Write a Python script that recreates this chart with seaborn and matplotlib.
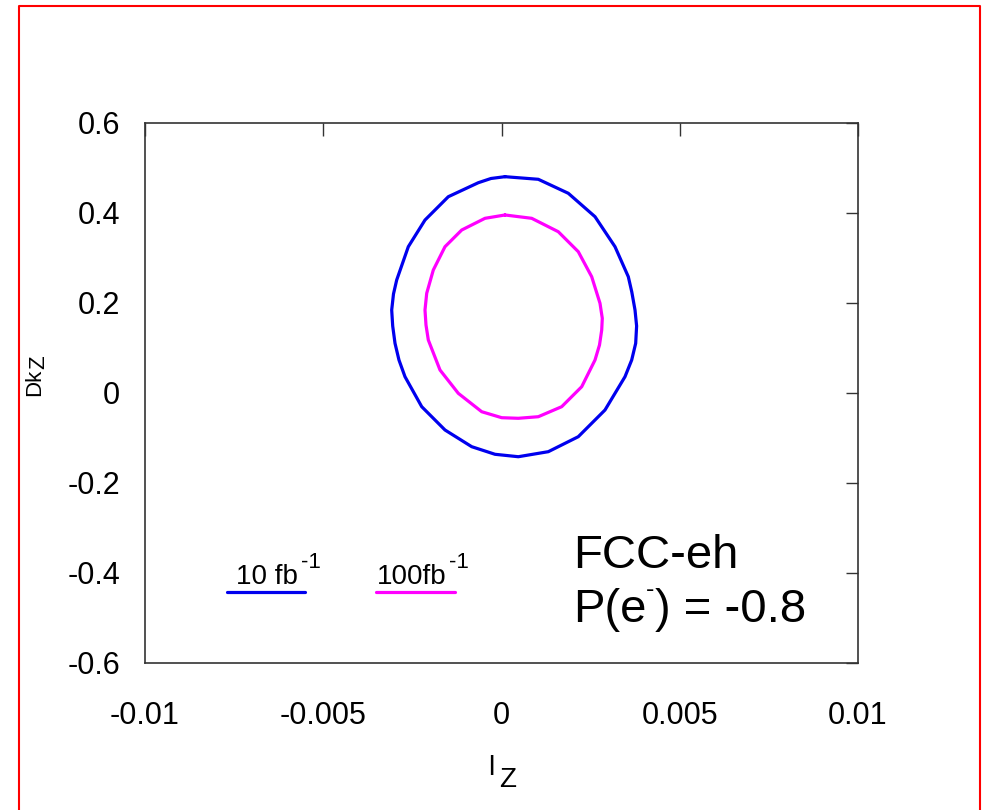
import seaborn as sns
import matplotlib.pyplot as plt
import pandas as pd
from matplotlib.lines import Line2D

# contour points (lambda_Z, Delta kappa_Z), clockwise from top
blue_x = [0.000098, 0.001032, 0.001874, 0.002623, 0.003184, 0.003557, 0.003655, 0.003745,
          0.003790, 0.003764, 0.003652, 0.003464, 0.002903, 0.002154, 0.001313, 0.000471,
          -0.000182, -0.000836, -0.001585, -0.002238, -0.002707, -0.002876, -0.002987,
          -0.003052, -0.003080, -0.003030, -0.002940, -0.002614, -0.002146, -0.001492,
          -0.000651, -0.000295]
blue_y = [0.4807, 0.4749, 0.4438, 0.3918, 0.3251, 0.2584, 0.2244, 0.1844,
          0.1489, 0.1104, 0.0733, 0.0362, -0.0378, -0.0971, -0.1304, -0.1416,
          -0.1362, -0.1193, -0.0822, -0.0304, 0.0362, 0.0733, 0.1104,
          0.1489, 0.1844, 0.2200, 0.2511, 0.3251, 0.3844, 0.4362,
          0.4673, 0.4767]

mag_x = [0.000098, 0.000847, 0.001593, 0.002154, 0.002530, 0.002763, 0.002827, 0.002811,
         0.002749, 0.002623, 0.002250, 0.001689, 0.001032, 0.000471, 0.000006, -0.000555,
         -0.001212, -0.001725, -0.002053, -0.002118, -0.002146, -0.002098, -0.001913,
         -0.001585, -0.001116, -0.000463]
mag_y = [0.3956, 0.3882, 0.3584, 0.3140, 0.2584, 0.1993, 0.1660, 0.1400,
         0.1067, 0.0733, 0.0140, -0.0304, -0.0527, -0.0562, -0.0549, -0.0416,
         -0.0007, 0.0511, 0.1178, 0.1511, 0.1844, 0.2216, 0.2733,
         0.3251, 0.3622, 0.3882]

x_ticks = [-0.01, -0.005, 0, 0.005, 0.01]
x_labels = ['-0.01', '-0.005', '0', '0.005', '0.01']
y_ticks = [-0.6, -0.4, -0.2, 0, 0.2, 0.4, 0.6]
y_labels = ['-0.6', '-0.4', '-0.2', '0', '0.2', '0.4', '0.6']

sns.set_style("white")
plt.rcParams['font.family'] = ['Liberation Sans', 'DejaVu Sans']
plt.rcParams['text.color'] = 'black'
plt.rcParams['xtick.color'] = 'black'
plt.rcParams['ytick.color'] = 'black'

# close the curves
df_blue = pd.DataFrame({'x': blue_x + blue_x[:1], 'y': blue_y + blue_y[:1]})
df_mag = pd.DataFrame({'x': mag_x + mag_x[:1], 'y': mag_y + mag_y[:1]})

fig = plt.figure(figsize=(9.84, 8.1), dpi=100)
ax = fig.add_axes([145 / 984, 1 - 663 / 810, 713 / 984, 540 / 810])

sns.lineplot(data=df_blue, x='x', y='y', sort=False, estimator=None, color='#0000EE', lw=2.3,
             ax=ax, solid_joinstyle='round')
sns.lineplot(data=df_mag, x='x', y='y', sort=False, estimator=None, color='#FF00FF', lw=2.3,
             ax=ax, solid_joinstyle='round')

ax.set_xlim(-0.01, 0.01)
ax.set_ylim(-0.6, 0.6)
ax.set_xticks(x_ticks)
ax.set_xticklabels(x_labels)
ax.set_yticks(y_ticks)
ax.set_yticklabels(y_labels)
ax.set_xlabel('')
ax.set_ylabel('')
ax.tick_params(direction='in', length=9, width=1, color='#333333', top=True, right=True,
               labelsize=22)
ax.tick_params(axis='x', pad=27)
ax.tick_params(axis='y', pad=18)
for s in ax.spines.values():
    s.set_color('#333333')
    s.set_linewidth(1.2)


def sup_text(x, y, main, sup, size, sup_size, rest='', dx=1, dy=8, gap=6):
    t = ax.text(x, y, main, fontsize=size, va='baseline')
    ax.annotate(sup, xy=(1, 1), xycoords=t, xytext=(dx, dy), textcoords='offset points',
                fontsize=sup_size, va='top', ha='left')
    if rest:
        ax.annotate(rest, xy=(1, 0), xycoords=t, xytext=(gap, 0), textcoords='offset points',
                    fontsize=size, va='bottom', ha='left')


# legend drawn by hand like the original
ax.plot([-0.0077, -0.00551], [-0.442, -0.442], color='#0000EE', lw=2.3)
ax.plot([-0.00352, -0.00131], [-0.442, -0.442], color='#FF00FF', lw=2.3)
sup_text(-0.00745, -0.425, '10 fb', '-1', 20, 16, dx=2, dy=9)
sup_text(-0.00350, -0.425, '100fb', '-1', 20, 16, dx=2, dy=9)

ax.text(0.0020, -0.389, 'FCC-eh', fontsize=34, va='baseline')
sup_text(0.0020, -0.509, 'P(e', '-', 34, 18, rest=') = -0.8', dx=0, dy=7, gap=6)

# axis titles (symbol font lost in the original: l_Z and Dk_Z)
fig.text(488 / 984, 1 - 775 / 810, 'l', fontsize=20, va='baseline')
fig.text(499 / 984, 1 - 787 / 810, 'Z', fontsize=20, va='baseline')
fig.text(45 / 984, 1 - 396 / 810, 'Dk', fontsize=16, rotation=90, ha='right', va='bottom')
fig.text(49 / 984, 1 - 369 / 810, 'Z', fontsize=16, rotation=90, ha='right', va='bottom')

# red frame
fig.add_artist(Line2D([19 / 984, 19 / 984, 980 / 984, 980 / 984], [0, 1 - 5.5 / 810, 1 - 5.5 / 810, 0],
                      transform=fig.transFigure, color='#FF0000', lw=1.5))

fig.savefig('out.png', dpi=100)
